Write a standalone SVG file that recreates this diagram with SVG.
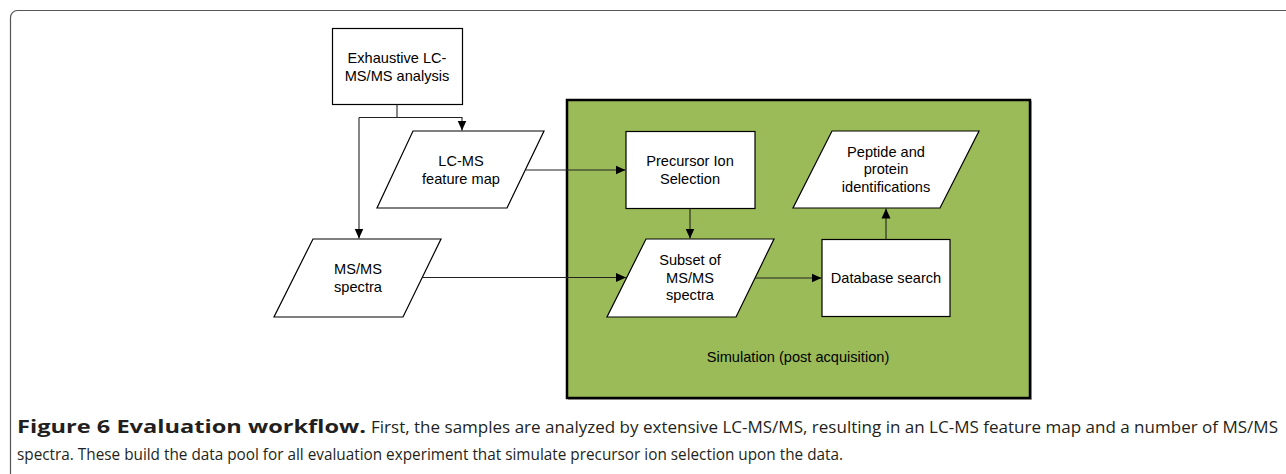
<svg xmlns="http://www.w3.org/2000/svg" width="1286" height="474" viewBox="0 0 1286 474">
<defs>
<marker id="arr" viewBox="0 0 10 10" refX="10" refY="5" markerWidth="10" markerHeight="10" markerUnits="userSpaceOnUse" orient="auto">
<path d="M0,0.5 L10,5 L0,9.5 Z" fill="#000"/>
</marker>
<style>
.nd{fill:#fff;stroke:#000;stroke-width:1.2}
.t{font-family:"Liberation Sans",Arial,sans-serif;font-size:14.6px;fill:#000;text-anchor:middle}
.c{fill:none;stroke:#222;stroke-width:1.1}
.cap{font-family:"Open Sans","Liberation Sans",sans-serif;font-size:17px;fill:#231f20}
.capb{font-family:"Open Sans","Liberation Sans",sans-serif;font-size:18px;font-weight:bold;fill:#231f20}
</style>
</defs>
<rect width="1286" height="474" fill="#fff"/>
<rect x="10.5" y="10.5" width="1290" height="490" rx="7" fill="none" stroke="#555" stroke-width="1.2"/>

<g id="simulation">
<rect x="568" y="101" width="464" height="299" fill="#b0b0b0"/>
<rect x="567" y="100" width="463" height="298" fill="#9BBB59" stroke="#000" stroke-width="2.5"/>
<text class="t" x="798" y="362">Simulation (post acquisition)</text>
</g>

<g id="exhaustive">
<rect class="nd" x="332.5" y="28.5" width="130" height="76"/>
<text class="t" x="397" y="63">Exhaustive LC-</text>
<text class="t" x="397" y="81">MS/MS analysis</text>
</g>

<g id="lcms">
<polygon class="nd" points="413,131 544,131 507,208 377,208"/>
<text class="t" x="461" y="166">LC-MS</text>
<text class="t" x="461" y="184">feature map</text>
</g>

<g id="msms">
<polygon class="nd" points="313,239 441,239 403,317 274,317"/>
<text class="t" x="358" y="274">MS/MS</text>
<text class="t" x="358" y="292">spectra</text>
</g>

<g id="precursor">
<rect class="nd" x="626" y="131.5" width="129" height="77"/>
<text class="t" x="690" y="166">Precursor Ion</text>
<text class="t" x="690" y="183.5">Selection</text>
</g>

<g id="subset">
<polygon class="nd" points="646,239 774,239 736,317 607,317"/>
<text class="t" x="690" y="265">Subset of</text>
<text class="t" x="690" y="282.5">MS/MS</text>
<text class="t" x="690" y="300">spectra</text>
</g>

<g id="database">
<rect class="nd" x="822" y="239.5" width="128" height="77"/>
<text class="t" x="886" y="283">Database search</text>
</g>

<g id="peptide">
<polygon class="nd" points="832,131 979,131 940,208 793,208"/>
<text class="t" x="886" y="156.5">Peptide and</text>
<text class="t" x="886" y="174">protein</text>
<text class="t" x="886" y="191.5">identifications</text>
</g>

<g id="connectors">
<path class="c" d="M397,104.5 V117.5"/>
<path class="c" d="M359,117.5 H462 V130.5" marker-end="url(#arr)"/>
<path class="c" d="M359,117.5 V238.5" marker-end="url(#arr)"/>
<path class="c" d="M526,170 H625.5" marker-end="url(#arr)"/>
<path class="c" d="M422,277.5 H626" marker-end="url(#arr)"/>
<path class="c" d="M690,208.5 V238.5" marker-end="url(#arr)"/>
<path class="c" d="M755,278 H821.5" marker-end="url(#arr)"/>
<path class="c" d="M886,239.5 V208.5" marker-end="url(#arr)"/>
</g>

<g id="caption">
<text class="capb" x="17" y="433" textLength="349" lengthAdjust="spacingAndGlyphs">Figure 6 Evaluation workflow.</text>
<text class="cap" x="371" y="433" textLength="907" lengthAdjust="spacingAndGlyphs">First, the samples are analyzed by extensive LC-MS/MS, resulting in an LC-MS feature map and a number of MS/MS</text>
<text class="cap" x="17" y="460" textLength="826" lengthAdjust="spacingAndGlyphs">spectra. These build the data pool for all evaluation experiment that simulate precursor ion selection upon the data.</text>
</g>
</svg>
